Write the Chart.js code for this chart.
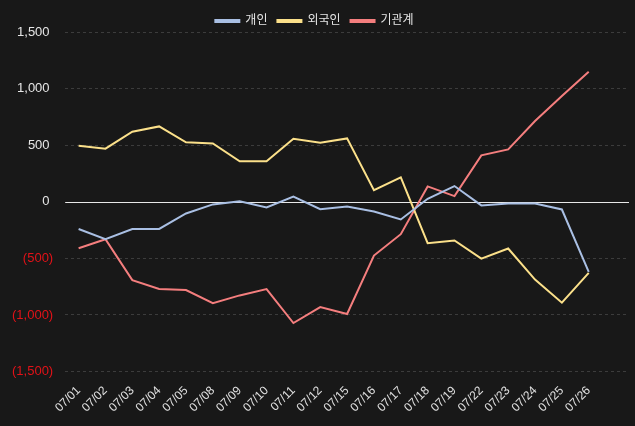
<!DOCTYPE html>
<html>
<head>
<meta charset="utf-8">
<script src="https://cdn.jsdelivr.net/npm/chart.js@4"></script>
<style>
  html, body { margin: 0; padding: 0; background: #181818; }
  #wrap { width: 635px; height: 426px; }
</style>
</head>
<body>
<div id="wrap"><canvas id="flow_chart"></canvas></div>
<script>
// trading dates (last slot left blank, the axis keeps room for it)
var dates = ['07/01', '07/02', '07/03', '07/04', '07/05', '07/08', '07/09', '07/10', '07/11', '07/12',
             '07/15', '07/16', '07/17', '07/18', '07/19', '07/22', '07/23', '07/24', '07/25', '07/26', ''];

var personal = [-240, -331, -240, -240, -103, -23, 5, -50, 47, -65,
                -41, -86, -156, 27, 139, -32, -15, -15, -68, -620];
var foreign = [495, 469, 619, 666, 525, 516, 358, 358, 557, 522,
               560, 103, 215, -366, -342, -502, -413, -687, -891, -628];
var institution = [-411, -331, -692, -771, -780, -895, -827, -771, -1071, -930,
                   -991, -475, -286, 136, 50, 410, 463, 714, 935, 1148];

var yTicks = [-1500, -1000, -500, 0, 500, 1000, 1500];

Chart.defaults.font.family = "'Liberation Sans', Arial, 'Noto Sans CJK KR', sans-serif";
Chart.defaults.font.size = 13;

function fmt(v) {
    var s = Math.abs(v).toLocaleString('en-US');
    return v < 0 ? '(' + s + ')' : s + ' ';
}

// solid white line at zero, drawn from the y scale
var zeroLine = {
    id: 'zeroLine',
    beforeDatasetsDraw: function(chart) {
        var y = chart.scales.y.getPixelForValue(0);
        var area = chart.chartArea;
        var ctx = chart.ctx;
        ctx.save();
        ctx.strokeStyle = '#e8e8e8';
        ctx.lineWidth = 1;
        ctx.beginPath();
        ctx.moveTo(area.left, Math.round(y) + 0.5);
        ctx.lineTo(area.right, Math.round(y) + 0.5);
        ctx.stroke();
        ctx.restore();
    }
};

// keep wide gaps between legend items but trim the legend's height
var legendTrim = {
    id: 'legendTrim',
    beforeUpdate: function(chart) {
        var legend = chart.legend;
        if (legend && !legend._trimmed) {
            var orig = legend.fit;
            legend.fit = function() {
                orig.call(this);
                this.height -= 5;
            };
            legend._trimmed = true;
        }
    }
};

let flowChart = new Chart(document.getElementById('flow_chart'), {
    type: 'line',
    data: {
        labels: dates,
        datasets: [
            { label: '개인', data: personal, borderColor: '#a9bfe3', backgroundColor: '#a9bfe3' },
            { label: '외국인', data: foreign, borderColor: '#fbe08a', backgroundColor: '#fbe08a' },
            { label: '기관계', data: institution, borderColor: '#f47e7e', backgroundColor: '#f47e7e' }
        ]
    },
    options: {
        responsive: true,
        maintainAspectRatio: false,
        animation: false,
        layout: { padding: { left: 0, right: 6, top: 5, bottom: 7 } },
        elements: {
            point: { radius: 0 },
            line: { borderWidth: 2, tension: 0 }
        },
        plugins: {
            legend: {
                labels: { color: '#e6e6e6', boxWidth: 24, boxHeight: 2, padding: 10, font: { size: 12 } }
            },
            tooltip: { enabled: false }
        },
        scales: {
            x: {
                offset: true,
                grid: { display: false },
                border: { display: false },
                ticks: { color: '#e0e0e0', autoSkip: false, maxRotation: 45, minRotation: 45, padding: 4, font: { size: 12 } }
            },
            y: {
                min: -1500,
                max: 1500,
                afterBuildTicks: function(axis) {
                    axis.ticks = yTicks.map(function(v) { return { value: v }; });
                },
                grid: {
                    color: function(ctx) { return ctx.tick && ctx.tick.value === 0 ? 'rgba(0,0,0,0)' : '#3c3c3c'; },
                    drawTicks: false
                },
                border: { display: false, dash: [3, 3] },
                ticks: {
                    padding: 12,
                    color: function(ctx) { return ctx.tick && ctx.tick.value < 0 ? '#e31218' : '#e6e6e6'; },
                    callback: function(v) { return fmt(v); }
                }
            }
        }
    },
    plugins: [zeroLine, legendTrim]
});
</script>
</body>
</html>
